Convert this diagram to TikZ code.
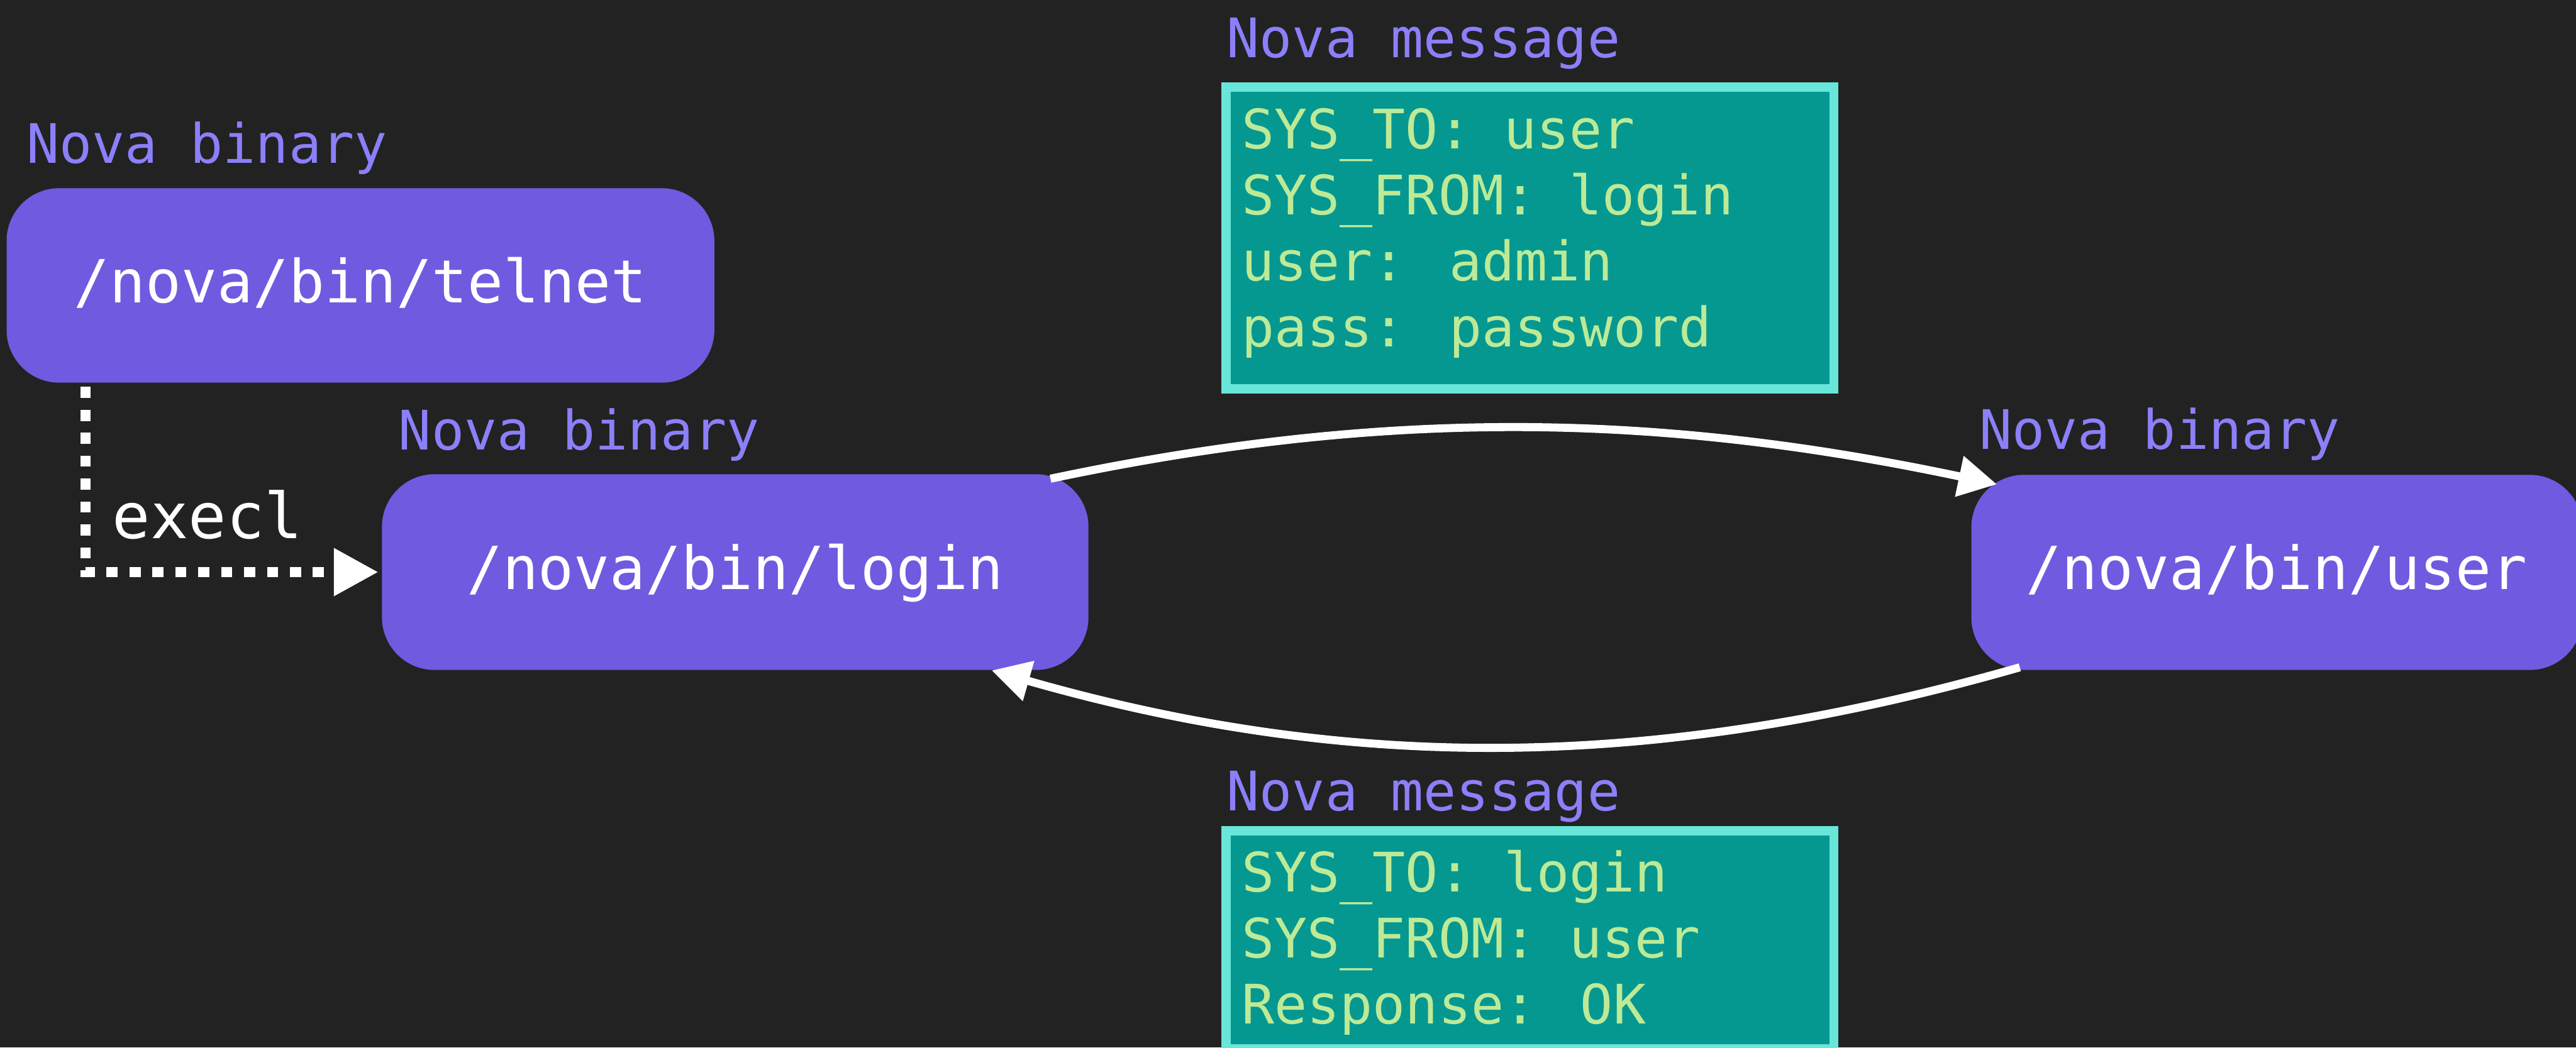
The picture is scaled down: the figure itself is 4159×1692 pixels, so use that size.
\documentclass[tikz,border=0pt]{standalone}
\usepackage{fontspec}
\newfontfamily\codefont{DejaVu Sans Mono}
\usetikzlibrary{arrows.meta}

\definecolor{canvas}{HTML}{222222}
\definecolor{binfill}{HTML}{705AE0}
\definecolor{tagcol}{HTML}{8B80F9}
\definecolor{msgfill}{HTML}{059891}
\definecolor{msgedge}{HTML}{68E6D9}
\definecolor{msgink}{HTML}{BDEA96}

\begin{document}
\begin{tikzpicture}[x=0.01cm, y=-0.01cm,
  binary/.style={fill=binfill, rounded corners=0.85cm, inner sep=0pt,
    text=white, font=\codefont\fontsize{27.3pt}{32pt}\selectfont,
    text height=0.69cm, text depth=0.14cm},
  tag/.style={anchor=base west, inner sep=0pt, text=tagcol,
    font=\codefont\fontsize{25pt}{30pt}\selectfont},
  msgbox/.style={draw=msgedge, fill=msgfill, line width=0.15cm, inner sep=0pt},
  msglines/.style={anchor=base west, inner sep=0pt, text=msgink,
    font=\codefont\fontsize{25pt}{30.3pt}\selectfont},
  flow/.style={draw=white, line width=0.13cm, line cap=butt,
    -{Triangle[length=0.62cm, width=0.64cm]}},
  execarrow/.style={draw=white, line width=0.17cm,
    dash pattern=on 0.18cm off 0.19cm,
    -{Triangle[length=0.72cm, width=0.73cm]}},
]
% canvas
\fill[canvas] (0,0) rectangle (4159,1692);
\useasboundingbox (0,0) rectangle (4159,1692);

% binaries
\node[binary, minimum width=11.42cm, minimum height=3.14cm] (telnet) at (582,461) {/nova/bin/telnet};
\node[binary, minimum width=11.40cm, minimum height=3.16cm] (login) at (1187,924) {/nova/bin/login};
\node[binary, minimum width=9.86cm, minimum height=3.15cm] (user) at (3676,924.5) {/nova/bin/user};

\node[tag] (telnettag) at (42,263) {Nova binary};
\node[tag] (logintag) at (643,727) {Nova binary};
\node[tag] (usertag) at (3195,726) {Nova binary};

% messages
\node[tag] (reqtag) at (1980,93) {Nova message};
\node[msgbox, minimum width=9.81cm, minimum height=4.87cm] (req) at (2470,384) {};
\node[msglines] (reqtext) at (2004,240) {\begin{tabular}[t]{@{}l@{}}
SYS\_TO: user\\
SYS\_FROM: login\\
user: admin\\
pass: password
\end{tabular}};

\node[tag] (resptag) at (1980,1309) {Nova message};
\node[msgbox, minimum width=9.81cm, minimum height=3.52cm] (resp) at (2470,1518) {};
\node[msglines] (resptext) at (2004,1440) {\begin{tabular}[t]{@{}l@{}}
SYS\_TO: login\\
SYS\_FROM: user\\
Response: OK
\end{tabular}};

% execl
\draw[execarrow] ([shift={(128,6)}]telnet.south west) |- ([xshift=-0.05cm]login.west);
\node[anchor=base west, inner sep=0pt, text=white,
  font=\codefont\fontsize{29pt}{34pt}\selectfont] (execl) at (181,870) {execl};

% message flow
\draw[flow] ([shift={(-62,8)}]login.north east)
  .. controls (2241,658) and (2679,667) .. ([shift={(42,16)}]user.north west);
\draw[flow] ([shift={(79,-5)}]user.south west)
  .. controls (2677,1245) and (2185,1250) .. ([shift={(-157,0)}]login.south east);
\end{tikzpicture}
\end{document}
